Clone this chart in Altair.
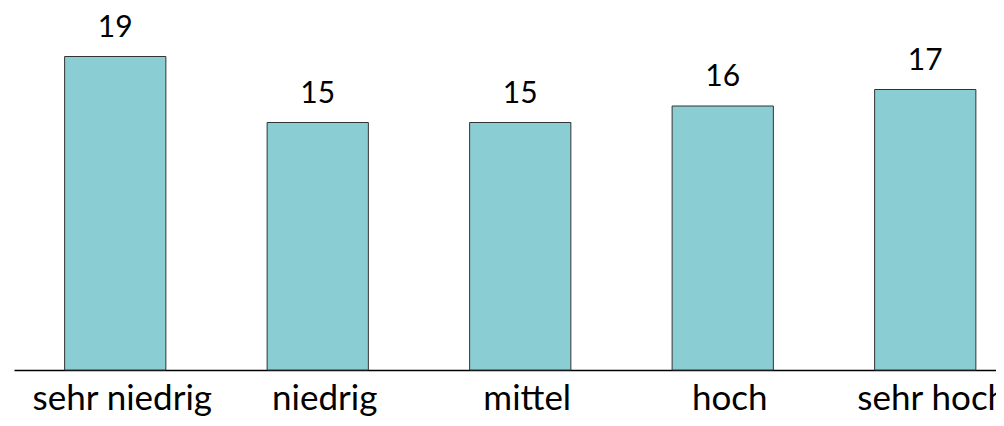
import altair as alt
import pandas as pd

categories = ["sehr niedrig", "niedrig", "mittel", "hoch", "sehr hoch"]
values = [19, 15, 15, 16, 17]

df = pd.DataFrame({"cat": categories, "val": values})

FONT = "Lato"
FS = 35
NUM_FS = 30

x = alt.X(
    "cat:N",
    sort=categories,
    title=None,
    scale=alt.Scale(paddingInner=0.5, paddingOuter=0.1747, align=0.7155),
    axis=alt.Axis(
        labelAngle=0,
        ticks=False,
        labels=False,
        domainColor="#000000",
        domainWidth=1.5,
        grid=False,
    ),
)
y = alt.Y("val:Q", title=None, scale=alt.Scale(domain=[0, 362 / 16.5], nice=False, zero=True), axis=None)

bars = alt.Chart(df).mark_bar(color="#8ACDD3", stroke="#333333", strokeWidth=1).encode(x=x, y=y)
labels = alt.Chart(df).mark_text(
    font=FONT, fontSize=NUM_FS, color="#000000", baseline="alphabetic", dy=-20
).encode(x=x, y=y, text="val:Q")
cat_labels = alt.Chart(df).mark_text(
    font=FONT, fontSize=FS, color="#000000", baseline="alphabetic", dx=7
).encode(x=x, y=alt.value(402), text="cat:N")

chart = (
    (bars + labels + cat_labels)
    .properties(
        width=982,
        height=362,
        autosize=alt.AutoSizeParams(type="none"),
        padding={"left": 6, "top": 0, "right": 0, "bottom": 48},
    )
    .configure_view(strokeWidth=0, stroke="transparent")
)

chart.save("out.html", embed_options={"renderer": "svg", "actions": False})
